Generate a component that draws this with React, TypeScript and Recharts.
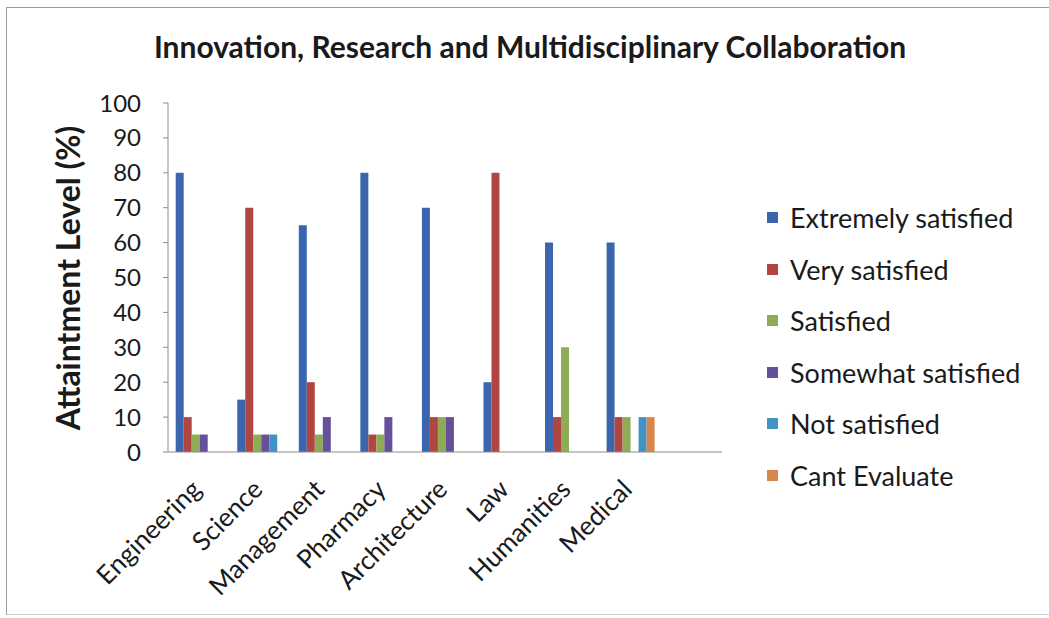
import { BarChart, Bar, XAxis, YAxis, Legend } from 'recharts'

const categories = ['Engineering', 'Science', 'Management', 'Pharmacy', 'Architecture', 'Law', 'Humanities', 'Medical', '']

const extremely = [80, 15, 65, 80, 70, 20, 60, 60, null]
const very = [10, 70, 20, 5, 10, 80, 10, 10, null]
const satisfied = [5, 5, 5, 5, 10, 0, 30, 10, null]
const somewhat = [5, 5, 10, 10, 10, 0, 0, 0, null]
const notSatisfied = [0, 5, 0, 0, 0, 0, 0, 10, null]
const cantEvaluate = [0, 0, 0, 0, 0, 0, 0, 10, null]

const yTicks = [0, 10, 20, 30, 40, 50, 60, 70, 80, 90, 100]

const series = [
  { key: 'es', name: 'Extremely satisfied', color: '#3b66ae', values: extremely },
  { key: 'vs', name: 'Very satisfied', color: '#b04642', values: very },
  { key: 'sa', name: 'Satisfied', color: '#8fab55', values: satisfied },
  { key: 'ss', name: 'Somewhat satisfied', color: '#65509a', values: somewhat },
  { key: 'ns', name: 'Not satisfied', color: '#3f94c4', values: notSatisfied },
  { key: 'ce', name: 'Cant Evaluate', color: '#d8864c', values: cantEvaluate },
]

const data = categories.map((name, i) => {
  const row: any = { name }
  series.forEach(s => { row[s.key] = s.values[i] })
  return row
})

const FONT = 'Lato, "Open Sans", sans-serif'

function CategoryTick(props: any) {
  const { x, y, payload } = props
  if (!payload.value) return null
  const tx = x + 4
  const ty = y + 31
  return (
    <text
      x={tx}
      y={ty}
      transform={`rotate(-45 ${tx} ${ty})`}
      textAnchor="end"
      fontSize={26}
      fontFamily={FONT}
      fill="#1a1a1a"
    >
      {payload.value}
    </text>
  )
}

function LegendList() {
  return (
    <div style={{ fontFamily: FONT, fontSize: 27, color: '#1a1a1a' }}>
      {series.map(s => (
        <div key={s.key} style={{ height: 51.5, display: 'flex', alignItems: 'center', whiteSpace: 'nowrap' }}>
          <span style={{ width: 11, height: 11, background: s.color, marginRight: 12, display: 'inline-block' }} />
          {s.name}
        </div>
      ))}
    </div>
  )
}

export default function App() {
  return (
    <div style={{ position: 'absolute', left: 0, top: 0, width: 1049, height: 618, background: '#fff', overflow: 'hidden' }}>
      <div
        style={{
          position: 'absolute', left: 6, top: 7, width: 1060, height: 606,
          borderLeft: '1px solid #9a9a9a', borderTop: '1px solid #9a9a9a', borderBottom: '1px solid #d0d0d0',
        }}
      />
      <div
        style={{
          position: 'absolute', left: 0, top: 28, width: 1060, textAlign: 'center',
          fontFamily: FONT, fontWeight: 700, fontSize: 30, color: '#1a1a1a',
        }}
      >
        Innovation, Research and Multidisciplinary Collaboration
      </div>
      <div style={{ position: 'absolute', left: 0, top: 0 }}>
        <BarChart
          width={1049}
          height={618}
          data={data}
          margin={{ top: 103, right: 327, bottom: 16, left: 40 }}
          barCategoryGap="12.5%"
          barGap={0}
        >
          <XAxis
            dataKey="name"
            interval={0}
            tickLine={false}
            axisLine={{ stroke: '#8c8c8c' }}
            tick={<CategoryTick />}
            height={150}
          />
          <YAxis
            width={128}
            domain={[0, 100]}
            ticks={yTicks}
            interval={0}
            tickSize={5}
            tickMargin={22}
            axisLine={{ stroke: '#8c8c8c' }}
            tickLine={{ stroke: '#8c8c8c' }}
            tick={{ fontSize: 24, fontFamily: FONT, fill: '#1a1a1a' }}
            label={{
              content: () => (
                <text
                  x={80}
                  y={278}
                  transform="rotate(-90 80 278)"
                  textAnchor="middle"
                  fontSize={32}
                  fontWeight={700}
                  fontFamily={FONT}
                  fill="#1a1a1a"
                >
                  Attaintment Level (%)
                </text>
              ),
            }}
          />
          <Legend
            layout="vertical"
            align="center"
            verticalAlign="middle"
            wrapperStyle={{ left: 767, top: 192, width: 280 }}
            content={() => <LegendList />}
          />
          {series.map(s => (
            <Bar key={s.key} dataKey={s.key} name={s.name} fill={s.color} isAnimationActive={false} />
          ))}
        </BarChart>
      </div>
    </div>
  )
}
